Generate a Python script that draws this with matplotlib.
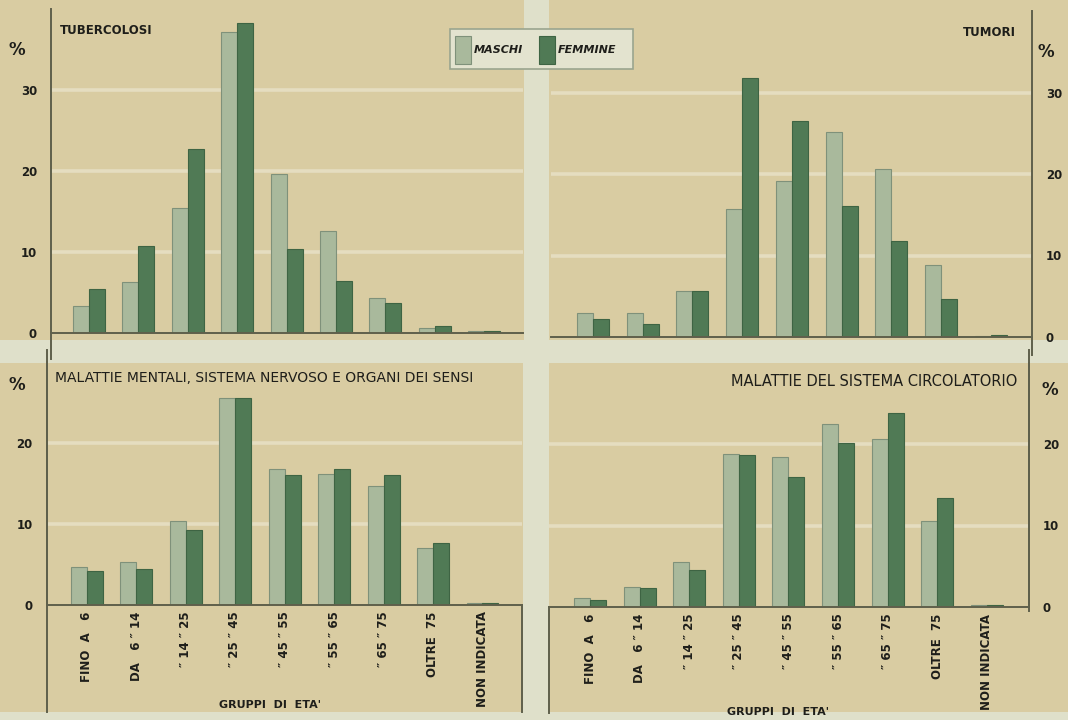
import numpy as np
import matplotlib
matplotlib.use("Agg")
import matplotlib.pyplot as plt
from matplotlib.patches import Rectangle

# values (% by age group)
age_groups = ["FINO  A   6", "DA   6 \u2033 14", "\u2033 14 \u2033 25", "\u2033 25 \u2033 45",
              "\u2033 45 \u2033 55", "\u2033 55 \u2033 65", "\u2033 65 \u2033 75",
              "OLTRE  75", "NON INDICATA"]

tb_m = [3.3, 6.3, 15.4, 37.1, 19.6, 12.6, 4.3, 0.6, 0.3]
tb_f = [5.4, 10.7, 22.7, 38.3, 10.4, 6.4, 3.7, 0.9, 0.2]
tum_m = [2.9, 3.0, 5.6, 15.7, 19.1, 25.1, 20.6, 8.8, 0.1]
tum_f = [2.2, 1.6, 5.6, 31.8, 26.5, 16.1, 11.8, 4.7, 0.2]
ment_m = [4.7, 5.3, 10.4, 25.6, 16.8, 16.2, 14.7, 7.0, 0.2]
ment_f = [4.2, 4.5, 9.3, 25.5, 16.1, 16.8, 16.1, 7.7, 0.3]
circ_m = [1.1, 2.4, 5.5, 18.8, 18.4, 22.4, 20.6, 10.5, 0.2]
circ_f = [0.8, 2.3, 4.6, 18.6, 15.9, 20.1, 23.8, 13.4, 0.2]

W, H = 1068, 720
BEIGE = '#d9cca2'
STRIP = '#dfe0ca'
GRID = '#e5ddc0'
C_M = '#a9b99c'
C_F = '#507a55'
LINE = '#5f604b'
TXT = '#1e1e1a'

plt.rcParams['font.family'] = ['DejaVu Sans']


def fig_rect(l, t, r, b):
    # pixel box (top-left origin) -> figure fraction
    return [l / W, 1 - b / H, (r - l) / W, (b - t) / H]


fig = plt.figure(figsize=(W / 100, H / 100), dpi=100)
fig.patch.set_facecolor(STRIP)

# beige paper quadrants
for l, t, r, b in [(0, 0, 524, 340), (549, 0, W, 340), (0, 363, 523, 712), (549, 363, W, 712)]:
    x, y, w, h = fig_rect(l, t, r, b)
    fig.add_artist(Rectangle((x, y), w, h, transform=fig.transFigure,
                             facecolor=BEIGE, edgecolor='none', zorder=-10))


def panel(px_box, c0, sp, ymax, ticks, men, women, side):
    l, t, r, b = px_box
    ax = fig.add_axes(fig_rect(l, t, r, b))
    ax.set_facecolor('none')
    ax.set_xlim((l - c0) / sp, (r - c0) / sp)
    ax.set_ylim(0, ymax)
    x = np.arange(len(men))
    w = 16 / sp
    for v in ticks[1:]:
        ax.axhline(v, color=GRID, lw=2.6, zorder=0)
    ax.bar(x - w / 2, men, width=w, color=C_M, edgecolor='#7f917a', lw=0.8, zorder=2)
    ax.bar(x + w / 2, women, width=w, color=C_F, edgecolor='#3e6443', lw=0.8, zorder=2)
    for s in ax.spines.values():
        s.set_visible(False)
    ax.spines['bottom'].set_visible(True)
    ax.spines['bottom'].set_color(LINE)
    ax.spines['bottom'].set_linewidth(1.4)
    ax.spines[side].set_visible(True)
    ax.spines[side].set_color(LINE)
    ax.spines[side].set_linewidth(1.4)
    ax.set_xticks([])
    ax.set_yticks(ticks)
    ax.set_yticklabels([str(v) for v in ticks])
    if side == 'right':
        ax.yaxis.tick_right()
    ax.tick_params(axis='y', length=0, pad=10, labelsize=8.5, labelcolor=TXT)
    for lab in ax.get_yticklabels():
        lab.set_fontweight('bold')
    return ax


ax1 = panel((51, 9, 523, 333), 88.5, 49.5, 40, [0, 10, 20, 30], tb_m, tb_f, 'left')
ax2 = panel((551, 11, 1032, 337), 593, 49.7, 40, [0, 10, 20, 30], tum_m, tum_f, 'right')
ax3 = panel((46.5, 362, 522, 605), 86.5, 49.5, 30, [0, 10, 20], ment_m, ment_f, 'left')
ax4 = panel((549, 362.5, 1029, 607), 590, 49.6, 30, [0, 10, 20], circ_m, circ_f, 'right')

# axis lines that run past the panel edges
ax1.plot([0, 0], [-3.2, 0], transform=ax1.get_yaxis_transform(), color=LINE, lw=1.4, clip_on=False)
ax2.plot([1, 1], [-2.2, 0], transform=ax2.get_yaxis_transform(), color=LINE, lw=1.4, clip_on=False)
ax3.plot([0, 0], [-13.2, 31.5], transform=ax3.get_yaxis_transform(), color=LINE, lw=1.4, clip_on=False)
ax3.plot([1, 1], [-13.2, 0], transform=ax3.get_yaxis_transform(), color=LINE, lw=1.4, clip_on=False)
ax4.plot([0, 0], [-13.0, 0], transform=ax4.get_yaxis_transform(), color=LINE, lw=1.4, clip_on=False)
ax4.plot([1, 1], [-0.5, 31.5], transform=ax4.get_yaxis_transform(), color=LINE, lw=1.4, clip_on=False)

# rotated age-group labels under the lower panels
for ax in (ax3, ax4):
    for i, lab in enumerate(age_groups):
        ax.text(i, -0.8, lab, rotation=90, ha='center', va='top', fontsize=8.5,
                fontweight='bold', color=TXT, clip_on=False)

fig.text(270 / W, 1 - 705 / H, "GRUPPI  DI  ETA'", ha='center', va='center',
         fontsize=8, fontweight='bold', color=TXT)
fig.text(778 / W, 1 - 712 / H, "GRUPPI  DI  ETA'", ha='center', va='center',
         fontsize=8, fontweight='bold', color=TXT)

# panel titles
fig.text(60 / W, 1 - 31 / H, "TUBERCOLOSI", fontsize=8.5, fontweight='bold', color=TXT,
         ha='left', va='center')
fig.text(1016 / W, 1 - 32 / H, "TUMORI", fontsize=8.5, fontweight='bold', color=TXT,
         ha='right', va='center')
fig.text(55 / W, 1 - 378 / H, "MALATTIE MENTALI, SISTEMA NERVOSO E ORGANI DEI SENSI",
         fontsize=10, color=TXT, ha='left', va='center')
fig.text(1017 / W, 1 - 381 / H, "MALATTIE DEL SISTEMA CIRCOLATORIO",
         fontsize=10.5, color=TXT, ha='right', va='center')

# percent signs
for px, py in [(17, 50), (1046, 52), (17, 385), (1050, 390)]:
    fig.text(px / W, 1 - py / H, "%", fontsize=12, fontweight='bold', color=TXT,
             ha='center', va='center')

# legend box
lx, ly, lw_, lh = fig_rect(450, 29, 633, 69)
fig.add_artist(Rectangle((lx, ly), lw_, lh, transform=fig.transFigure,
                         facecolor='#e3e3cf', edgecolor='#9aa58f', lw=1.2, zorder=5))
for (l, r), col, ec in [((455, 471), C_M, '#7f917a'), ((539, 555), C_F, '#3e6443')]:
    sx, sy, sw, sh = fig_rect(l, 36, r, 64)
    fig.add_artist(Rectangle((sx, sy), sw, sh, transform=fig.transFigure,
                             facecolor=col, edgecolor=ec, lw=0.8, zorder=6))
fig.text(474 / W, 1 - 50 / H, "MASCHI", fontsize=8, fontweight='bold', style='italic',
         color=TXT, ha='left', va='center', zorder=7)
fig.text(558 / W, 1 - 50 / H, "FEMMINE", fontsize=8, fontweight='bold', style='italic',
         color=TXT, ha='left', va='center', zorder=7)

fig.savefig("out.png", dpi=100, facecolor=fig.get_facecolor())
